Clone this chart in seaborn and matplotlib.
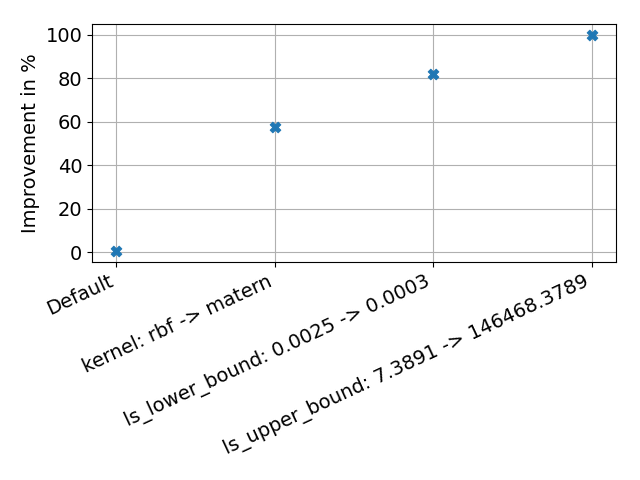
import matplotlib
matplotlib.use("Agg")
import matplotlib.pyplot as plt
import seaborn as sns
import pandas as pd

# Values
configs = [
    "Default",
    "kernel: rbf -> matern",
    "ls_lower_bound: 0.0025 -> 0.0003",
    "ls_upper_bound: 7.3891 -> 146468.3789",
]
improvement = [0.5, 57.5, 82.0, 100.0]

df = pd.DataFrame({"config": configs, "improvement": improvement})

plt.rcParams["font.size"] = 14
fig, ax = plt.subplots(figsize=(6.4, 4.8), dpi=100)
sns.scatterplot(data=df, x="config", y="improvement", marker="X", s=60,
                color="#1f77b4", edgecolor="#1f77b4", ax=ax, zorder=3)
ax.grid(True, color="#b0b0b0", linewidth=0.8)
ax.set_axisbelow(True)
ax.set_xlabel("")
ax.set_ylabel("Improvement in %")
ax.margins(x=0.05, y=0.05)
plt.setp(ax.get_xticklabels(), rotation=25, ha="right")
fig.subplots_adjust(left=0.144, right=0.9625, top=0.95, bottom=0.454)
plt.savefig("out.png")
